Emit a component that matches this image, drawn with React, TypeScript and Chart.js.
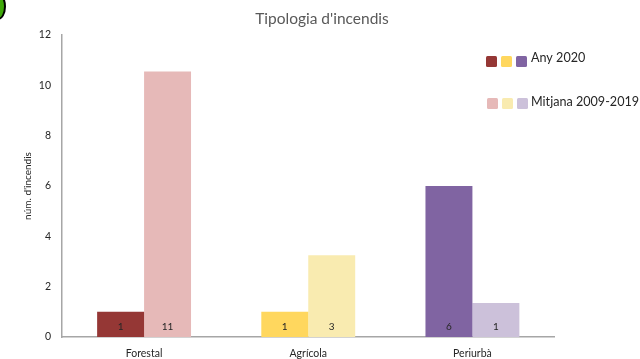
import React, { useEffect, useRef } from "react";
import { Chart, registerables } from "chart.js";

Chart.register(...registerables);

const categories = ["Forestal", "Agrícola", "Periurbà"];
const any2020 = [1, 1, 6];
const mitjana = [10.55, 3.25, 1.35];
const colors2020 = ["#953735", "#ffd75e", "#8064a2"];
const colorsMitjana = ["#e6b9b8", "#f9ebb0", "#ccc1da"];
const legendLabels = ["Any 2020", "Mitjana 2009-2019"];
const chartTitle = "Tipologia d'incendis";
const yTitle = "núm. d'incendis";
const FONT = "Lato, 'Open Sans', sans-serif";

const overlayPlugin = {
  id: "overlay",
  afterDatasetsDraw(chart: any) {
    const { ctx } = chart;
    ctx.save();
    ctx.font = `10px ${FONT}`;
    ctx.fillStyle = "#262626";
    ctx.textAlign = "center";
    ctx.textBaseline = "middle";
    chart.data.datasets.forEach((ds: any, i: number) => {
      chart.getDatasetMeta(i).data.forEach((bar: any, j: number) => {
        ctx.fillText(String(Math.round(ds.data[j])), bar.x, chart.scales.y.bottom - 10);
      });
    });

    // custom legend: three swatches followed by the label, one row per series
    const rows = [
      { colors: colors2020, label: legendLabels[0], y: 61, text: 58, xs: [486, 501, 516] },
      { colors: colorsMitjana, label: legendLabels[1], y: 103, text: 102, xs: [487, 502, 517] },
    ];
    rows.forEach((r) => {
      r.colors.forEach((c, k) => {
        ctx.fillStyle = c;
        ctx.beginPath();
        ctx.roundRect(r.xs[k], r.y - 5, 11, 11, 1.5);
        ctx.fill();
      });
      ctx.fillStyle = "#262626";
      ctx.font = `12.6px ${FONT}`;
      ctx.textAlign = "left";
      ctx.textBaseline = "middle";
      ctx.fillText(r.label, 531, r.text);
    });
    ctx.restore();
  },
};

export default function App() {
  const ref = useRef<HTMLCanvasElement>(null);
  useEffect(() => {
    const chart = new Chart(ref.current as HTMLCanvasElement, {
      type: "bar",
      data: {
        labels: categories,
        datasets: [
          { label: legendLabels[0], data: any2020, backgroundColor: colors2020, borderWidth: 0 },
          { label: legendLabels[1], data: mitjana, backgroundColor: colorsMitjana, borderWidth: 0 },
        ],
      },
      options: {
        responsive: false,
        animation: false,
        layout: { padding: { left: 4, right: 0, top: 0, bottom: 0 } },
        datasets: { bar: { categoryPercentage: 0.572, barPercentage: 1 } },
        plugins: {
          legend: { display: false },
          tooltip: { enabled: false },
          title: {
            display: true,
            text: chartTitle,
            color: "#595959",
            font: { family: FONT, size: 15.5, weight: "normal" },
            padding: { top: 10, bottom: 6.4 },
          },
        },
        scales: {
          x: {
            grid: { display: false, drawTicks: false },
            border: { color: "#a6a6a6", width: 1.5 },
            ticks: { color: "#262626", font: { family: FONT, size: 10.5 }, padding: 10, maxRotation: 0 },
            afterFit: (s: any) => { s.height = 22; },
          },
          y: {
            min: 0,
            max: 12,
            grid: { display: false, drawTicks: false },
            border: { color: "#a6a6a6", width: 1.5 },
            ticks: { stepSize: 2, color: "#262626", font: { family: FONT, size: 10.5 }, padding: 11 },
            title: { display: true, text: yTitle, color: "#262626", font: { family: FONT, size: 10 }, padding: { top: 18, bottom: 0 } },
            afterFit: (s: any) => { s.width = 58; },
          },
          // empty right-hand gutter that holds the legend, so the title stays centred on the page
          gutter: {
            type: "linear",
            position: "right",
            grid: { display: false, drawTicks: false },
            border: { display: false },
            ticks: { display: false },
            afterFit: (s: any) => { s.width = 85.5; },
          },
        },
      },
      plugins: [overlayPlugin],
    } as any);
    return () => chart.destroy();
  }, []);
  return (
    <div style={{ position: "fixed", left: 0, top: 0, width: 640, height: 359, background: "#fff", overflow: "hidden" }}>
      <canvas ref={ref} width={640} height={359} style={{ display: "block" }} />
      <div
        style={{
          position: "absolute",
          left: -10,
          top: -7,
          width: 12,
          height: 23,
          borderRadius: "50%",
          background: "#3fa80a",
          border: "2.5px solid #000",
        }}
      />
    </div>
  );
}
